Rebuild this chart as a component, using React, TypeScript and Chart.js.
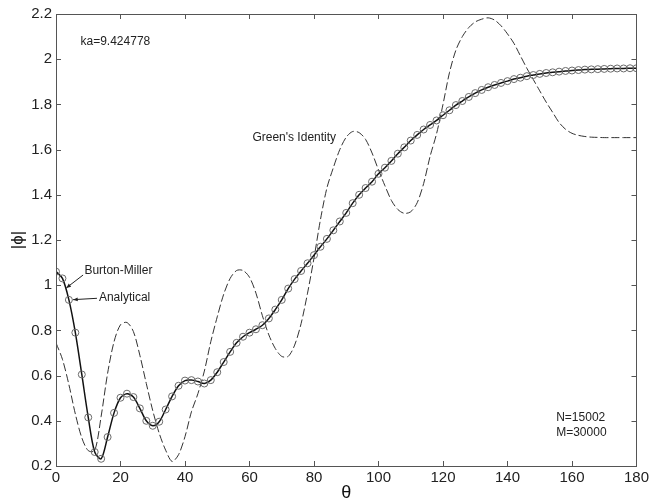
import React, { useEffect, useRef } from 'react';
import { Chart, registerables } from 'chart.js';
Chart.register(...registerables);

const theta = [0, 2, 4, 6, 8, 10, 12, 14, 16, 18, 20, 22, 24, 26, 28, 30, 32, 34, 36, 38, 40, 42, 44, 46, 48, 50, 52, 54, 56, 58, 60, 62, 64, 66, 68, 70, 72, 74, 76, 78, 80, 82, 84, 86, 88, 90, 92, 94, 96, 98, 100, 102, 104, 106, 108, 110, 112, 114, 116, 118, 120, 122, 124, 126, 128, 130, 132, 134, 136, 138, 140, 142, 144, 146, 148, 150, 152, 154, 156, 158, 160, 162, 164, 166, 168, 170, 172, 174, 176, 178, 180];

const analytical = [1.06, 1.03, 0.935, 0.79, 0.605, 0.415, 0.262, 0.232, 0.328, 0.435, 0.502, 0.52, 0.505, 0.455, 0.4, 0.378, 0.396, 0.45, 0.508, 0.555, 0.578, 0.58, 0.574, 0.565, 0.58, 0.615, 0.66, 0.705, 0.745, 0.772, 0.79, 0.805, 0.823, 0.853, 0.892, 0.935, 0.985, 1.027, 1.063, 1.097, 1.133, 1.17, 1.205, 1.243, 1.282, 1.32, 1.363, 1.4, 1.43, 1.458, 1.493, 1.52, 1.55, 1.582, 1.61, 1.64, 1.665, 1.689, 1.709, 1.729, 1.752, 1.774, 1.797, 1.815, 1.833, 1.85, 1.864, 1.876, 1.886, 1.895, 1.903, 1.912, 1.918, 1.925, 1.93, 1.935, 1.939, 1.942, 1.945, 1.948, 1.95, 1.952, 1.954, 1.955, 1.956, 1.957, 1.958, 1.959, 1.959, 1.96, 1.96];

const burtonMiller = [1.06, 1.03, 0.935, 0.79, 0.605, 0.415, 0.262, 0.232, 0.328, 0.435, 0.502, 0.52, 0.505, 0.455, 0.4, 0.378, 0.396, 0.45, 0.508, 0.555, 0.578, 0.58, 0.574, 0.565, 0.58, 0.615, 0.66, 0.705, 0.745, 0.772, 0.79, 0.805, 0.823, 0.853, 0.892, 0.935, 0.985, 1.027, 1.063, 1.097, 1.133, 1.17, 1.205, 1.243, 1.282, 1.32, 1.363, 1.4, 1.43, 1.458, 1.493, 1.52, 1.55, 1.582, 1.61, 1.64, 1.665, 1.689, 1.709, 1.729, 1.752, 1.774, 1.797, 1.815, 1.833, 1.85, 1.864, 1.876, 1.886, 1.895, 1.903, 1.912, 1.918, 1.925, 1.93, 1.935, 1.939, 1.942, 1.945, 1.948, 1.95, 1.952, 1.954, 1.955, 1.956, 1.957, 1.958, 1.959, 1.959, 1.96, 1.96];

const greens = [0.745, 0.672, 0.56, 0.43, 0.325, 0.268, 0.268, 0.42, 0.61, 0.75, 0.825, 0.835, 0.795, 0.69, 0.565, 0.445, 0.345, 0.27, 0.22, 0.25, 0.33, 0.44, 0.52, 0.62, 0.75, 0.86, 0.96, 1.03, 1.065, 1.065, 1.035, 0.965, 0.865, 0.78, 0.72, 0.685, 0.685, 0.735, 0.83, 0.965, 1.12, 1.29, 1.43, 1.52, 1.6, 1.655, 1.68, 1.675, 1.645, 1.585, 1.51, 1.44, 1.375, 1.335, 1.318, 1.325, 1.365, 1.45, 1.57, 1.67, 1.8, 1.94, 2.04, 2.1, 2.14, 2.165, 2.177, 2.183, 2.173, 2.148, 2.112, 2.07, 2.015, 1.96, 1.91, 1.86, 1.81, 1.765, 1.72, 1.69, 1.672, 1.663, 1.658, 1.655, 1.654, 1.653, 1.653, 1.653, 1.653, 1.653, 1.653];

const xTicks = [0, 20, 40, 60, 80, 100, 120, 140, 160, 180];
const yTicks = [0.2, 0.4, 0.6, 0.8, 1.0, 1.2, 1.4, 1.6, 1.8, 2.0, 2.2];
const yTickLabels = ['0.2', '0.4', '0.6', '0.8', '1', '1.2', '1.4', '1.6', '1.8', '2', '2.2'];

const notes = [
  { text: 'ka=9.424778', x: 7.6, y: 2.076 },
  { text: "Green's Identity", x: 60.9, y: 1.651 },
  { text: 'Burton-Miller', x: 8.8, y: 1.063 },
  { text: 'Analytical', x: 13.3, y: 0.946 },
  { text: 'N=15002', x: 155.1, y: 0.414 },
  { text: 'M=30000', x: 155.1, y: 0.349 },
];
const arrows = [
  { fromX: 8.4, fromY: 1.045, toX: 3.2, toY: 0.988 },
  { fromX: 12.7, fromY: 0.942, toX: 5.3, toY: 0.936 },
];

const SANS = '"Liberation Sans", Arial, sans-serif';

const framePlugin = {
  id: 'frameTicks',
  afterDatasetsDraw(chart: any) {
    const { ctx, chartArea, scales } = chart;
    const { left, right, top, bottom } = chartArea;
    const xs = scales.x;
    const ys = scales.y;
    ctx.save();
    ctx.strokeStyle = '#555';
    ctx.lineWidth = 1;
    ctx.strokeRect(Math.round(left) + 0.5, Math.round(top) + 0.5, Math.round(right - left), Math.round(bottom - top));
    ctx.beginPath();
    const L = 5;
    xTicks.forEach((v) => {
      const px = Math.round(xs.getPixelForValue(v)) + 0.5;
      ctx.moveTo(px, bottom);
      ctx.lineTo(px, bottom - L);
      ctx.moveTo(px, top);
      ctx.lineTo(px, top + L);
    });
    yTicks.forEach((v) => {
      const py = Math.round(ys.getPixelForValue(v)) + 0.5;
      ctx.moveTo(left, py);
      ctx.lineTo(left + L, py);
      ctx.moveTo(right, py);
      ctx.lineTo(right - L, py);
    });
    ctx.stroke();

    ctx.fillStyle = '#222';
    ctx.font = `12px ${SANS}`;
    ctx.textBaseline = 'middle';
    ctx.textAlign = 'left';
    notes.forEach((n) => {
      ctx.fillText(n.text, xs.getPixelForValue(n.x), ys.getPixelForValue(n.y));
    });
    ctx.strokeStyle = '#222';
    ctx.lineWidth = 1;
    arrows.forEach((a) => {
      const x1 = xs.getPixelForValue(a.fromX);
      const y1 = ys.getPixelForValue(a.fromY);
      const x2 = xs.getPixelForValue(a.toX);
      const y2 = ys.getPixelForValue(a.toY);
      ctx.beginPath();
      ctx.moveTo(x1, y1);
      ctx.lineTo(x2, y2);
      ctx.stroke();
      const ang = Math.atan2(y2 - y1, x2 - x1);
      const h = 5;
      ctx.beginPath();
      ctx.moveTo(x2, y2);
      ctx.lineTo(x2 - h * Math.cos(ang - 0.4), y2 - h * Math.sin(ang - 0.4));
      ctx.lineTo(x2 - h * Math.cos(ang + 0.4), y2 - h * Math.sin(ang + 0.4));
      ctx.closePath();
      ctx.fillStyle = '#222';
      ctx.fill();
    });
    ctx.restore();
  },
};

export default function App() {
  const ref = useRef<HTMLCanvasElement>(null);
  useEffect(() => {
    document.body.style.margin = '0';
    const canvas = ref.current;
    if (!canvas) return;
    const pts = (arr: number[]) => theta.map((t, i) => ({ x: t, y: arr[i] }));
    const chart = new Chart(canvas, {
      type: 'line',
      data: {
        datasets: [
          {
            label: 'Analytical',
            data: pts(analytical),
            showLine: false,
            pointRadius: 3.5,
            pointStyle: 'circle',
            pointBorderColor: '#6a6a6a',
            pointBackgroundColor: 'rgba(0,0,0,0)',
            pointBorderWidth: 1,
            order: 1,
          },
          {
            label: 'Burton-Miller',
            data: pts(burtonMiller),
            borderColor: '#111',
            borderWidth: 1.5,
            pointRadius: 0,
            tension: 0.3,
            fill: false,
            order: 2,
          },
          {
            label: "Green's Identity",
            data: pts(greens),
            borderColor: '#333',
            borderWidth: 1,
            borderDash: [8, 3],
            pointRadius: 0,
            tension: 0.3,
            fill: false,
            order: 3,
          },
        ],
      },
      options: {
        animation: false,
        responsive: false,
        maintainAspectRatio: false,
        layout: { padding: { top: 14, right: 15, left: 0, bottom: 0 } },
        plugins: { legend: { display: false }, tooltip: { enabled: false } },
        scales: {
          x: {
            type: 'linear',
            min: 0,
            max: 180,
            afterBuildTicks: (s: any) => {
              s.ticks = xTicks.map((v) => ({ value: v }));
            },
            afterFit: (s: any) => {
              s.height = 38;
            },
            grid: { display: false, drawTicks: false },
            border: { display: false },
            ticks: {
              font: { family: SANS, size: 15 },
              color: '#222',
              padding: 3,
              maxRotation: 0,
              autoSkip: false,
              callback: (v: any) => String(v),
            },
            title: {
              display: true,
              text: 'θ',
              font: { family: SANS, size: 18 },
              color: '#111',
              padding: { top: 0, bottom: 0 },
            },
          },
          y: {
            type: 'linear',
            min: 0.2,
            max: 2.2,
            afterBuildTicks: (s: any) => {
              s.ticks = yTicks.map((v) => ({ value: v }));
            },
            afterFit: (s: any) => {
              s.width = 56;
            },
            grid: { display: false, drawTicks: false },
            border: { display: false },
            ticks: {
              font: { family: SANS, size: 15 },
              color: '#222',
              padding: 4,
              autoSkip: false,
              callback: (v: any) => {
                const i = yTicks.findIndex((t) => Math.abs(t - v) < 1e-6);
                return i >= 0 ? yTickLabels[i] : '';
              },
            },
            title: {
              display: true,
              text: '|ϕ|',
              font: { family: SANS, size: 17 },
              color: '#111',
              padding: { top: 8, bottom: 0 },
            },
          },
        },
      },
      plugins: [framePlugin],
    } as any);
    return () => chart.destroy();
  }, []);
  return (
    <div style={{ width: 652, height: 504, background: '#fff' }}>
      <canvas ref={ref} width={652} height={504} style={{ width: 652, height: 504, display: 'block' }} />
    </div>
  );
}
